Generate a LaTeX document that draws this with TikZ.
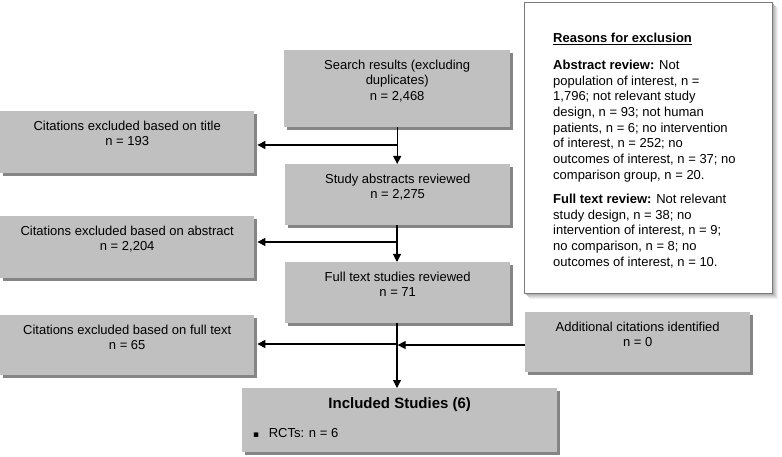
\documentclass[tikz,border=0pt]{standalone}
\usepackage{fontspec}
\setmainfont{Liberation Sans}
\newfontfamily\symfont{DejaVu Sans}
\usetikzlibrary{arrows.meta,shadows}
\definecolor{boxgray}{HTML}{C0C0C0}
\definecolor{shadowgray}{HTML}{858585}
\definecolor{bordergray}{HTML}{7A7A7A}
\begin{document}
\begin{tikzpicture}[x=1pt,y=-1pt,
  font=\fontsize{13}{15.7}\selectfont,
  graybox/.style={draw=none, fill=boxgray, inner sep=0pt, anchor=north west,
    general shadow={fill=shadowgray, shadow xshift=3pt, shadow yshift=-3pt}},
  boxtext/.style={inner sep=0pt, anchor=north, align=center, yshift=-9.5pt},
  conn/.style={line width=1.1pt, draw=black},
  arr/.style={conn, -{Triangle[length=8pt,width=8pt]}}
]
\useasboundingbox (0,0) rectangle (782,457);
\fill[white] (0,0) rectangle (782,457);

% Reasons box with soft shadow
\foreach \s/\c in {6/gray!12,5/gray!22,4/gray!35,3/gray!48,2/gray!60}
  \fill[\c] (524+\s,2+\s) rectangle (772+\s,293+\s);
\node[draw=bordergray, line width=0.8pt, fill=white, inner sep=0pt, anchor=north west,
      minimum width=248pt, minimum height=291pt] (reasons) at (524,2) {};
\node[inner sep=0pt, anchor=north west, align=left] (reasonstext) at (553,33)
  {\underline{\textbf{Reasons for exclusion}}\\[11pt]
   \textbf{Abstract review:} Not\\
   population of interest, n =\\
   1,796; not relevant study\\
   design, n = 93; not human\\
   patients, n = 6; no intervention\\
   of interest, n = 252; no\\
   outcomes of interest, n = 37; no\\
   comparison group, n = 20.\\[8.5pt]
   \textbf{Full text review:} Not relevant\\
   study design, n = 38; no\\
   intervention of interest, n = 9;\\
   no comparison, n = 8; no\\
   outcomes of interest, n = 10.};

% Gray boxes
\node[graybox, minimum width=226pt, minimum height=77pt] (search) at (284,50) {};
\node[boxtext] (searcht) at (search.north) {Search results (excluding\\duplicates)\\n = 2,468};

\node[graybox, minimum width=254pt, minimum height=62pt] (title) at (0,111) {};
\node[boxtext] (titlet) at (title.north) {Citations excluded based on title\\n = 193};

\node[graybox, minimum width=225pt, minimum height=61pt] (abstracts) at (285,164) {};
\node[boxtext] (abstractst) at (abstracts.north) {Study abstracts reviewed\\n = 2,275};

\node[graybox, minimum width=254pt, minimum height=62pt] (absexcl) at (0,216) {};
\node[boxtext] (absexclt) at (absexcl.north) {Citations excluded based on abstract\\n = 2,204};

\node[graybox, minimum width=225pt, minimum height=61pt] (fulltext) at (285,262) {};
\node[boxtext] (fulltextt) at (fulltext.north) {Full text studies reviewed\\n = 71};

\node[graybox, minimum width=254pt, minimum height=60pt] (ftexcl) at (0,315) {};
\node[boxtext] (ftexclt) at (ftexcl.north) {Citations excluded based on full text\\n = 65};

\node[graybox, minimum width=225pt, minimum height=60pt] (additional) at (525,312) {};
\node[boxtext] (additionalt) at (additional.north) {Additional citations identified\\n = 0};

\node[graybox, minimum width=315pt, minimum height=64pt] (included) at (242,388) {};
\node[inner sep=0pt, anchor=base, font=\fontsize{15}{18}\selectfont\bfseries] (includedt)
  at ([yshift=-20pt]included.north) {Included Studies (6)};
\node[inner sep=0pt, anchor=base west] (rcts) at (253,437) {{\symfont\fontsize{9}{10}\selectfont ▪}\hspace{9.5pt}RCTs: n = 6};

% Branch points on the trunk
\coordinate (b1) at (397,145);
\coordinate (b2) at (397,242);
\coordinate (b3) at (397,344);

% Connectors
\draw[arr] (search.south) -- (abstracts.north -| search.south);
\draw[arr] (b1) -- ([xshift=3pt]title.east |- b1);
\draw[arr] (abstracts.south -| b1) -- (fulltext.north -| b1);
\draw[arr] (b2) -- ([xshift=3pt]absexcl.east |- b2);
\draw[arr] (fulltext.south -| b1) -- (included.north -| b1);
\draw[arr] (b3) -- ([xshift=3pt]ftexcl.east |- b3);
\draw[arr] (additional.west |- 0,345) -- (397.6,345);
\end{tikzpicture}
\end{document}
